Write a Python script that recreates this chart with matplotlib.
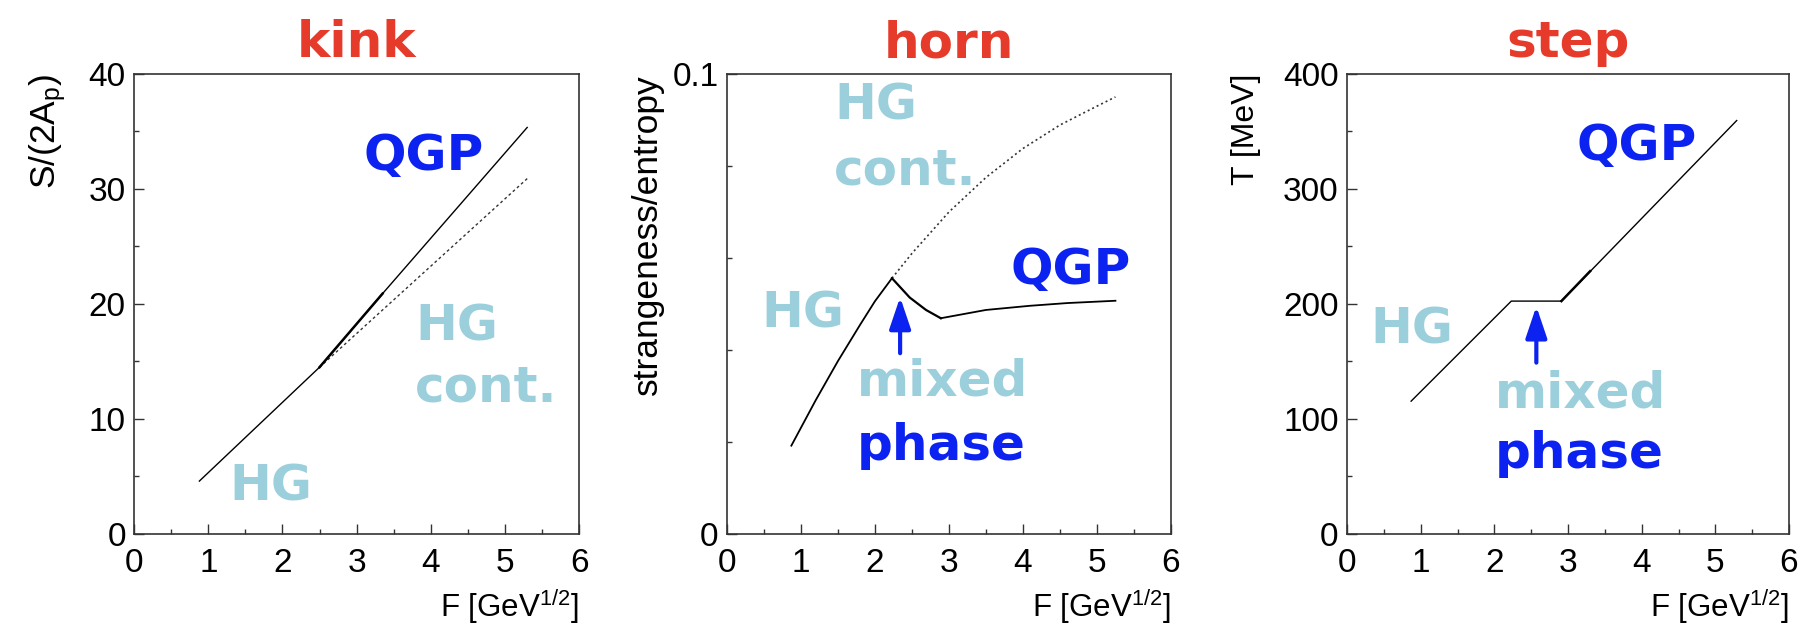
import matplotlib
matplotlib.use("Agg")
import matplotlib.pyplot as plt
from matplotlib.ticker import MultipleLocator

plt.rcParams['font.family'] = 'Liberation Sans'
plt.rcParams['mathtext.fontset'] = 'custom'
plt.rcParams['mathtext.rm'] = 'Liberation Sans'
plt.rcParams['mathtext.it'] = 'Liberation Sans:italic'

RED = '#e63a2a'
BLUE = '#0b22f0'
LBLUE = '#9ccfdc'
BIG = dict(family='DejaVu Sans', weight='bold', fontsize=36, va='baseline', ha='left')

# kink: entropy per baryon
kink_hg_F = [0.88, 2.5]
kink_hg_S = [4.6, 14.5]
kink_cont_F = [2.5, 5.3]
kink_cont_S = [14.5, 30.9]
kink_qgp_F = [2.5, 3.35, 5.3]
kink_qgp_S = [14.5, 20.9, 35.35]

# horn: strangeness/entropy
horn_hg_F = [0.87, 1.2, 1.5, 1.8, 2.0, 2.23]
horn_hg_y = [0.0192, 0.0291, 0.0376, 0.0455, 0.0506, 0.0556]
horn_cont_F = [2.23, 2.5, 3.0, 3.5, 4.0, 4.5, 5.0, 5.25]
horn_cont_y = [0.0556, 0.0610, 0.0700, 0.0775, 0.0838, 0.0889, 0.0930, 0.0950]
horn_mix_F = [2.23, 2.47, 2.69, 2.89]
horn_mix_y = [0.0556, 0.0514, 0.0487, 0.0469]
horn_qgp_F = [2.89, 3.5, 4.09, 4.6, 5.25]
horn_qgp_y = [0.0469, 0.0487, 0.0496, 0.0502, 0.0507]

# step: temperature
step_F = [0.87, 2.23, 2.91, 5.29]
step_T = [115.5, 202.5, 202.5, 359.5]
step_thick_F = [2.91, 3.3]
step_thick_T = [202.5, 228.5]

fig = plt.figure(figsize=(18.12, 6.36), dpi=100)
ax1 = fig.add_axes([0.0740, 0.1604, 0.2456, 0.7233])
ax2 = fig.add_axes([0.4012, 0.1604, 0.2450, 0.7233])
ax3 = fig.add_axes([0.7434, 0.1604, 0.2439, 0.7233])


def style(ax, ymax, ymajor, yminor, title, ylabel, ysize, ylx):
    ax.set_xlim(0, 6)
    ax.set_ylim(0, ymax)
    ax.xaxis.set_major_locator(MultipleLocator(1))
    ax.xaxis.set_minor_locator(MultipleLocator(0.5))
    ax.yaxis.set_major_locator(MultipleLocator(ymajor))
    ax.yaxis.set_minor_locator(MultipleLocator(yminor))
    ax.tick_params(which='both', direction='in', top=False, right=False,
                   labelsize=24, width=1.0, color='#333333')
    ax.tick_params(which='major', length=7)
    ax.tick_params(which='minor', length=3.5)
    ax.tick_params(axis='x', pad=10)
    ax.tick_params(axis='y', pad=6)
    for s in ax.spines.values():
        s.set_linewidth(1.2)
        s.set_color('#333333')
    ax.set_title(title, color=RED, fontsize=36, family='DejaVu Sans',
                 weight='bold', pad=12)
    ax.set_xlabel(r'F [GeV$^{1/2}$]', loc='right', fontsize=22.5, labelpad=6)
    ax.set_ylabel(ylabel, loc='top', fontsize=ysize)
    ax.yaxis.set_label_coords(ylx, 1.0)


style(ax1, 40, 10, 5, 'kink', r'S/(2A$_{\mathrm{p}}$)', 25.5, -0.148)
ax1.plot(kink_hg_F, kink_hg_S, color='black', lw=1.0)
ax1.plot(kink_cont_F, kink_cont_S, color='#333333', lw=1.0, ls=(0, (2, 2)))
ax1.plot(kink_qgp_F, kink_qgp_S, color='black', lw=1.0)
ax1.plot(kink_qgp_F[:2], kink_qgp_S[:2], color='black', lw=1.8)
ax1.text(3.09, 31.65, 'QGP', color=BLUE, **BIG)
ax1.text(3.79, 16.8, 'HG', color=LBLUE, **BIG)
ax1.text(3.79, 11.55, 'cont.', color=LBLUE, **BIG)
ax1.text(1.29, 2.9, 'HG', color=LBLUE, **BIG)

style(ax2, 0.1, 0.1, 0.02, 'horn', 'strangeness/entropy', 25.5, -0.142)
ax2.yaxis.set_major_formatter(plt.FuncFormatter(lambda v, p: '0' if v == 0 else f'{v:g}'))
ax2.plot(horn_hg_F, horn_hg_y, color='black', lw=1.3)
ax2.plot(horn_cont_F, horn_cont_y, color='#333333', lw=1.2, ls=(0, (1.2, 1.8)))
ax2.plot(horn_mix_F, horn_mix_y, color='black', lw=1.6)
ax2.plot(horn_qgp_F, horn_qgp_y, color='black', lw=1.3)
ax2.text(1.45, 0.0901, 'HG', color=LBLUE, **BIG)
ax2.text(1.44, 0.076, 'cont.', color=LBLUE, **BIG)
ax2.text(3.83, 0.0544, 'QGP', color=BLUE, **BIG)
ax2.text(0.47, 0.0449, 'HG', color=LBLUE, **BIG)
ax2.text(1.755, 0.0302, 'mixed', color=LBLUE, **BIG)
ax2.text(1.755, 0.0161, 'phase', color=BLUE, **BIG)
ax2.annotate('', xy=(2.34, 0.0515), xytext=(2.34, 0.0393),
             arrowprops=dict(arrowstyle='-|>,head_length=0.8,head_width=0.27',
                             color=BLUE, lw=3, mutation_scale=24,
                             shrinkA=0, shrinkB=0))

style(ax3, 400, 100, 50, 'step', 'T [MeV]', 23, -0.195)
ax3.plot(step_F, step_T, color='black', lw=1.0)
ax3.plot(step_thick_F, step_thick_T, color='black', lw=1.8)
ax3.text(3.12, 325, 'QGP', color=BLUE, **BIG)
ax3.text(0.32, 165.6, 'HG', color=LBLUE, **BIG)
ax3.text(2.01, 110.3, 'mixed', color=LBLUE, **BIG)
ax3.text(2.01, 57.4, 'phase', color=BLUE, **BIG)
ax3.annotate('', xy=(2.57, 198), xytext=(2.57, 149),
             arrowprops=dict(arrowstyle='-|>,head_length=0.8,head_width=0.27',
                             color=BLUE, lw=3, mutation_scale=24,
                             shrinkA=0, shrinkB=0))

fig.savefig('out.png', dpi=100)
